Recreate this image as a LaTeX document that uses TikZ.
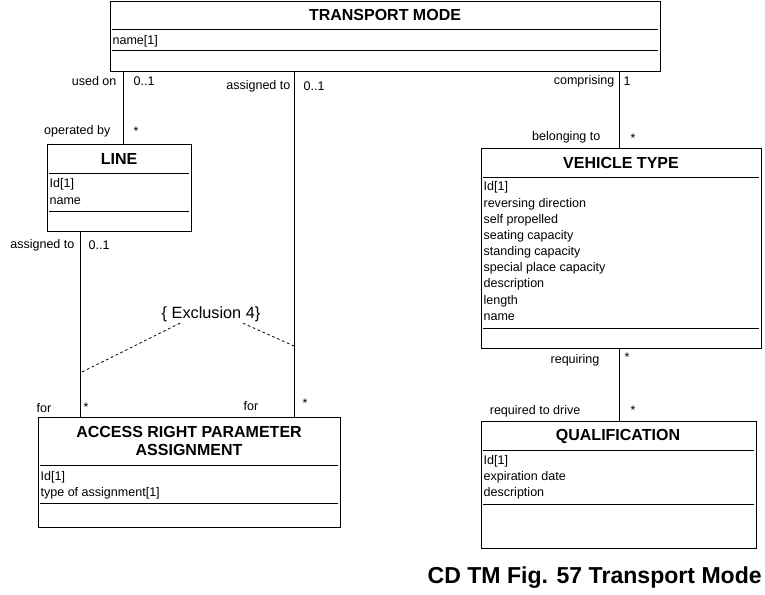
\documentclass[tikz,border=0pt]{standalone}
\usepackage{fontspec}
\setmainfont{Liberation Sans}
\usetikzlibrary{fit}

\tikzset{
  classbox/.style={draw, inner sep=0pt, line width=0.75pt},
  classname/.style={font=\fontsize{12}{13.5}\selectfont\bfseries, align=center},
  attr/.style={anchor=west, inner sep=1pt, font=\fontsize{9.4}{11}\selectfont},
  role/.style={inner sep=1pt, font=\fontsize{9.4}{11}\selectfont},
  assoc/.style={line width=0.75pt},
  constraint/.style={line width=0.6pt, dash pattern=on 2pt off 2pt},
}

\begin{document}
\begin{tikzpicture}[x=0.75pt,y=0.75pt,yscale=-1,xscale=1]

\useasboundingbox (0,0) rectangle (765,594);

% TRANSPORT MODE
\node[classbox, fit={(110,1) (660,71)}] (tm) {};
\node[classname] (tmTitle) at (385,15) {TRANSPORT MODE};
\draw (112,29) -- (658,29);
\node[attr] (tmName) at (111,41) {name[1]};
\draw (112,50) -- (658,50);

% LINE
\node[classbox, fit={(47,144) (191,231)}] (line) {};
\node[classname] (lineTitle) at (119,159) {LINE};
\draw (49,173) -- (189,173);
\node[attr] (lineId) at (48,184) {Id[1]};
\node[attr] (lineName) at (48,201) {name};
\draw (49,211) -- (189,211);

% VEHICLE TYPE
\node[classbox, fit={(481,148) (761,348)}] (vt) {};
\node[classname] (vtTitle) at (621,163) {VEHICLE TYPE};
\draw (483,177) -- (759,177);
\node[attr] (vtA1) at (482,187) {Id[1]};
\node[attr] (vtA2) at (482,204) {reversing direction};
\node[attr] (vtA3) at (482,220) {self propelled};
\node[attr] (vtA4) at (482,236) {seating capacity};
\node[attr] (vtA5) at (482,252) {standing capacity};
\node[attr] (vtA6) at (482,268) {special place capacity};
\node[attr] (vtA7) at (482,284) {description};
\node[attr] (vtA8) at (482,301) {length};
\node[attr] (vtA9) at (482,317) {name};
\draw (483,328) -- (759,328);

% QUALIFICATION
\node[classbox, fit={(481,421) (756,548)}] (qual) {};
\node[classname] (qualTitle) at (618,436) {QUALIFICATION};
\draw (483,450) -- (754,450);
\node[attr] (qualA1) at (482,461) {Id[1]};
\node[attr] (qualA2) at (482,477) {expiration date};
\node[attr] (qualA3) at (482,493) {description};
\draw (483,504) -- (754,504);

% ACCESS RIGHT PARAMETER ASSIGNMENT
\node[classbox, fit={(38,417) (340,527)}] (arpa) {};
\node[classname] (arpaTitle) at (189,441) {ACCESS RIGHT PARAMETER\\ASSIGNMENT};
\draw (40,465) -- (338,465);
\node[attr] (arpaA1) at (39,477) {Id[1]};
\node[attr] (arpaA2) at (39,493) {type of assignment[1]};
\draw (40,503) -- (338,503);

% associations
\coordinate (xLine) at (123,0);
\coordinate (xAssign) at (294,0);
\coordinate (xVt) at (619,0);
\coordinate (xLineArpa) at (80,0);

\draw[assoc] (tm.south -| xLine) -- (line.north -| xLine);
\draw[assoc] (tm.south -| xAssign) -- (arpa.north -| xAssign);
\draw[assoc] (tm.south -| xVt) -- (vt.north -| xVt);
\draw[assoc] (vt.south -| xVt) -- (qual.north -| xVt);
\draw[assoc] (line.south -| xLineArpa) -- (arpa.north -| xLineArpa);

% role names and multiplicities
\node[role, anchor=east] (r1) at (118,81) {used on};
\node[role, anchor=west] (m1) at (132,81) {0..1};
\node[role, anchor=east] (r2) at (112,131) {operated by};
\node[role] (m2) at (136,131) {*};

\node[role, anchor=east] (r3) at (292,86) {assigned to};
\node[role, anchor=west] (m3) at (302,86) {0..1};
\node[role] (r4) at (251,406) {for};
\node[role] (m4) at (305,403) {*};

\node[role, anchor=east] (r5) at (616,81) {comprising};
\node[role, anchor=west] (m5) at (622,81) {1};
\node[role, anchor=east] (r6) at (602,137) {belonging to};
\node[role] (m6) at (633,138) {*};

\node[role, anchor=east] (r7) at (601,360) {requiring};
\node[role] (m7) at (627,357) {*};
\node[role, anchor=east] (r8) at (582,411) {required to drive};
\node[role] (m8) at (633,410) {*};

\node[role, anchor=east] (r9) at (76,245) {assigned to};
\node[role, anchor=west] (m9) at (87,245) {0..1};
\node[role] (r10) at (44,408) {for};
\node[role] (m10) at (86,407) {*};

% exclusion constraint
\node[inner sep=1pt, font=\fontsize{12.2}{14}\selectfont] (excl) at (211,314) {\{ Exclusion 4\}};
\coordinate (exclL) at (80,373);
\coordinate (exclR) at (294,346);
\draw[constraint] (excl.south -| 180,0) -- (exclL);
\draw[constraint] (excl.south -| 243,0) -- (exclR);

% caption
\node[anchor=east, inner sep=0pt, font=\fontsize{17.3}{20}\selectfont\bfseries] (caption) at (762,578) {CD TM Fig. 57 Transport Mode};

\end{tikzpicture}
\end{document}
